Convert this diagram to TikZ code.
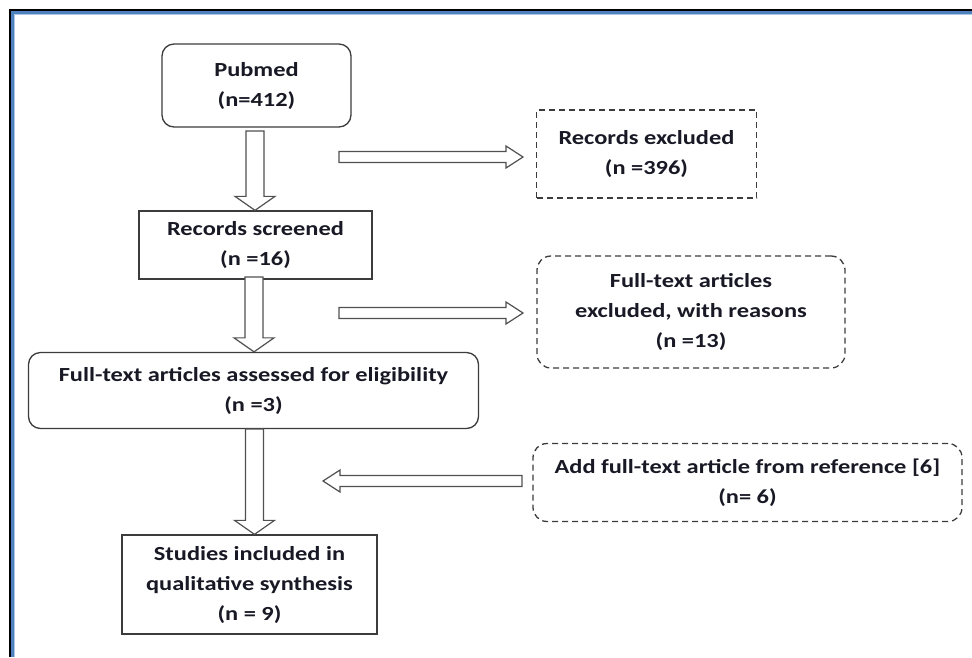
\documentclass[tikz,border=0pt]{standalone}
\usepackage{fontspec}
\setmainfont{Carlito}
\newfontfamily\boxfont[FakeStretch=1.22]{Carlito}
\usetikzlibrary{calc}
\definecolor{txt}{RGB}{25,25,38}
\definecolor{edge}{RGB}{60,60,60}
\definecolor{arrowedge}{RGB}{80,80,80}
\definecolor{frameblue}{RGB}{79,129,189}
\definecolor{framelight}{RGB}{170,200,230}
\tikzset{
  boxbase/.style={draw=edge, line width=1.3pt, fill=white, align=center, inner sep=0pt,
    text=txt, font=\boxfont\fontsize{20}{30}\selectfont\bfseries},
  solidbox/.style={boxbase},
  roundbox/.style={boxbase, rounded corners=12pt},
  dashbox/.style={boxbase, dash pattern=on 6pt off 4pt},
  dashround/.style={boxbase, dash pattern=on 6pt off 4pt, rounded corners=14pt},
  blockarrow/.style={draw=arrowedge, line width=1.2pt, fill=white, line join=miter}
}
% vertical block arrow: #1 start, #2 tip
\newcommand{\vblock}[2]{%
  \draw[blockarrow] let \p1=(#1), \p2=(#2) in
    (\x1-9pt,\y1) -- (\x1-9pt,\y2+14pt) -- (\x1-20pt,\y2+14pt) -- (\x1,\y2)
    -- (\x1+20pt,\y2+14pt) -- (\x1+9pt,\y2+14pt) -- (\x1+9pt,\y1) -- cycle;}
% horizontal block arrow: #1 start, #2 tip
\newcommand{\hblock}[2]{%
  \draw[blockarrow] let \p1=(#1), \p2=(#2), \n1={sign(\x2-\x1)} in
    (\x1,\y1+5.5pt) -- (\x2-\n1*17pt,\y1+5.5pt) -- (\x2-\n1*17pt,\y1+11pt) -- (\x2,\y1)
    -- (\x2-\n1*17pt,\y1-11pt) -- (\x2-\n1*17pt,\y1-5.5pt) -- (\x1,\y1-5.5pt) -- cycle;}
\begin{document}
\begin{tikzpicture}[x=1pt,y=-1pt]
\useasboundingbox[fill=white] (0,0) rectangle (972,657);
% frame
\draw[black, line width=2pt] (10,657) -- (10,10) -- (972,10);
\draw[frameblue, line width=3pt] (12.5,657) -- (12.5,12.5) -- (972,12.5);
\draw[framelight, line width=1pt] (14.5,657) -- (14.5,14.5) -- (972,14.5);

% boxes
\node[roundbox, minimum width=189pt, minimum height=83pt] (pub) at (256.5,85.5) {Pubmed\\(n=412)};
\node[solidbox, minimum width=233pt, minimum height=68pt] (scr) at (255.5,245) {Records screened\\(n =16)};
\node[roundbox, minimum width=450pt, minimum height=76pt] (fta) at (253.5,390.5) {Full-text articles assessed for eligibility\\(n =3)};
\node[solidbox, minimum width=255pt, minimum height=99pt] (inc) at (249.5,584.5) {Studies included in\\qualitative synthesis\\(n = 9)};
\node[dashbox, minimum width=220pt, minimum height=88pt] (rex) at (646.5,154) {Records excluded\\(n =396)};
\node[dashround, minimum width=308pt, minimum height=112pt] (ftx) at (691,312) {Full-text articles\\excluded, with reasons\\(n =13)};
\node[dashround, minimum width=429pt, minimum height=78pt] (add) at (747.5,482.5) {Add full-text article from reference [6]\\(n= 6)};

% arrow end points
\coordinate (a1s) at (255,131);
\coordinate (a2s) at (254,277);
\coordinate (a3s) at (254.5,429);
\coordinate (h1s) at (339,157);
\coordinate (h1t) at (523,157);
\coordinate (h2s) at (339,313);
\coordinate (h2t) at (523,313);
\coordinate (h3s) at (522,481);
\coordinate (h3t) at (323,481);

\vblock{a1s}{a1s |- scr.north}
\vblock{a2s}{a2s |- fta.north}
\vblock{a3s}{a3s |- inc.north}
\hblock{h1s}{h1t}
\hblock{h2s}{h2t}
\hblock{h3s}{h3t}
\end{tikzpicture}
\end{document}
